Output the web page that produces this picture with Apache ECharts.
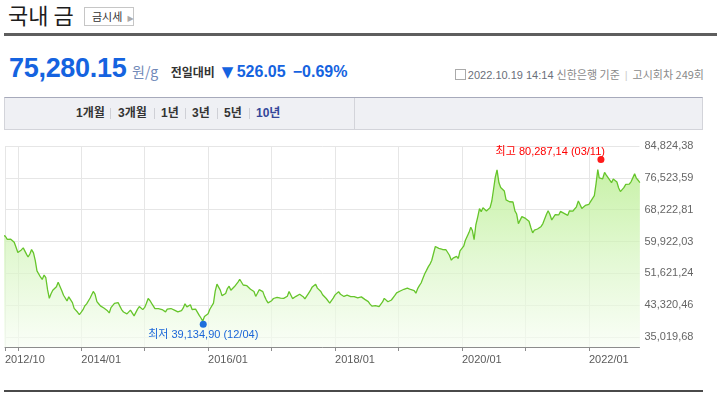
<!DOCTYPE html>
<html><head><meta charset="utf-8">
<script src="https://cdn.jsdelivr.net/npm/echarts@6/dist/echarts.min.js"></script>
<style>
html,body{margin:0;padding:0;width:717px;height:394px;overflow:hidden;background:#fff;font-family:"Liberation Sans","Noto Sans CJK KR",sans-serif;}
.abs{position:absolute;white-space:nowrap;}
#chart{position:absolute;left:0;top:0;width:717px;height:394px;}
.ib{display:inline-block;}
.tab{position:absolute;top:105px;font-size:12px;font-weight:bold;color:#333;line-height:16px;font-family:"Liberation Sans","Noto Sans CJK KR",sans-serif;}
.sep{position:absolute;top:108px;width:1px;height:11px;background:#cfd0d6;}
</style></head><body>
<div class="abs" style="left:8px;top:2px;font-size:22px;line-height:24px;color:#1d1d1d;font-family:'Noto Sans CJK KR',sans-serif;">국내 금</div>
<div class="abs" style="left:84px;top:7px;width:48px;height:17px;border:1px solid #c6c6c6;font-size:11px;line-height:17px;color:#333;font-family:'Noto Sans CJK KR',sans-serif;"><span style="margin-left:7px">금시세</span><span style="margin-left:5px;color:#aaa;font-size:8px;font-family:'DejaVu Sans'">▶</span></div>
<div class="abs" style="left:4px;top:33px;width:713px;height:3px;background:#5e5e5e;"></div>

<div class="abs" style="left:9px;top:52px;line-height:32px;">
<span class="ib" style="width:123px;font-size:27px;font-weight:bold;color:#1563e0;letter-spacing:-0.3px;">75,280.15</span><span class="ib" style="width:38.7px;font-size:14px;color:#7189b8;font-family:'Noto Sans CJK KR',sans-serif;">원/g</span><span class="ib" style="width:51px;font-size:12px;font-weight:bold;color:#333;font-family:'Noto Sans CJK KR',sans-serif;">전일대비</span><span class="ib" style="width:15px;font-size:15px;color:#1563e0;font-family:'DejaVu Sans';">▼</span><span class="ib" style="width:56px;font-size:16px;font-weight:bold;color:#1563e0;">526.05</span><span class="ib" style="font-size:16px;font-weight:bold;color:#1563e0;">−0.69%</span>
</div>

<div class="abs" style="right:13px;top:67px;font-size:11px;line-height:14px;color:#8a8a8a;">
<span class="ib" style="width:9px;height:9px;border:1px solid #aaa;vertical-align:-1px;margin-right:2px;"></span><span style="color:#6a6f7a;">2022.10.19 14:14</span> <span style="font-family:'Noto Sans CJK KR',sans-serif;">신한은행 기준</span><span style="color:#cccccc;margin:0 5px;">|</span><span style="font-family:'Noto Sans CJK KR',sans-serif;">고시회차 249회</span>
</div>

<div class="abs" style="left:4px;top:97px;width:697px;height:31px;background:#eff0f4;border-top:1px solid #a7aabb;border-bottom:1px solid #d3d4da;border-left:1px solid #d3d4da;border-right:1px solid #d3d4da;"></div>
<div class="abs" style="left:354px;top:98px;width:1px;height:31px;background:#d3d4da;"></div>
<div class="tab" style="left:76px;">1개월</div>
<div class="sep" style="left:110px;"></div>
<div class="tab" style="left:118px;">3개월</div>
<div class="sep" style="left:154px;"></div>
<div class="tab" style="left:161px;">1년</div>
<div class="sep" style="left:185px;"></div>
<div class="tab" style="left:192px;">3년</div>
<div class="sep" style="left:217px;"></div>
<div class="tab" style="left:224px;">5년</div>
<div class="sep" style="left:249px;"></div>
<div class="tab" style="left:256px;color:#34479a;">10년</div>

<div class="abs" style="left:4px;top:390px;width:699px;height:2px;background:#4a4a4a;"></div>

<div id="chart"></div>
<script>
// ---- data ----
const months = [
 '2012-10','2012-11','2012-12',
 '2013-01','2013-02','2013-03','2013-04','2013-05','2013-06','2013-07','2013-08','2013-09','2013-10','2013-11','2013-12',
 '2014-01','2014-02','2014-03','2014-04','2014-05','2014-06','2014-07','2014-08','2014-09','2014-10','2014-11','2014-12',
 '2015-01','2015-02','2015-03','2015-04','2015-05','2015-06','2015-07','2015-08','2015-09','2015-10','2015-11','2015-12',
 '2016-01','2016-02','2016-03','2016-04','2016-05','2016-06','2016-07','2016-08','2016-09','2016-10','2016-11','2016-12',
 '2017-01','2017-02','2017-03','2017-04','2017-05','2017-06','2017-07','2017-08','2017-09','2017-10','2017-11','2017-12',
 '2018-01','2018-02','2018-03','2018-04','2018-05','2018-06','2018-07','2018-08','2018-09','2018-10','2018-11','2018-12',
 '2019-01','2019-02','2019-03','2019-04','2019-05','2019-06','2019-07','2019-08','2019-09','2019-10','2019-11','2019-12',
 '2020-01','2020-02','2020-03','2020-04','2020-05','2020-06','2020-07','2020-08','2020-09','2020-10','2020-11','2020-12',
 '2021-01','2021-02','2021-03','2021-04','2021-05','2021-06','2021-07','2021-08','2021-09','2021-10','2021-11','2021-12',
 '2022-01','2022-02','2022-03','2022-04','2022-05','2022-06','2022-07','2022-08','2022-09','2022-10'
];
const monthDays = ['01','11','21'];
// 원/g, three readings per month (1st, 11th, 21st)
const prices = [
 // 2012 Oct-Dec
 61600,61600,61300, 60490,60640,60510, 60390,59720,58500,
 // 2013
 57060,57020,57730, 58260,58320,56510, 55870,56660,57810, 56940,55000,52250,
 51850,50670,50020, 51170,50480,47360, 45120,46280,47200, 46740,48140,49300,
 49600,47100,45900, 45650,44420,45500, 45320,44000,42480, 42010,41470,40850,
 // 2014
 41490,42130,43120, 43650,44090,45200, 45700,46900,46180, 44230,43690,43140,
 42780,42570,42800, 41840,41300,42680, 43090,43780,43430, 44010,43080,42180,
 41540,41030,41040, 41460,42030,41840, 40540,40810,42300, 42950,42690,42160,
 // 2015
 42740,43830,45060, 44480,43740,43020, 42420,42190,42430, 42420,42180,41690,
 41570,42280,42600, 42450,42480,42040, 42170,41580,41440, 41910,42600,43670,
 42890,43330,43440, 42190,42510,42280, 41460,40650,39980, 39150,40370,40280,
 // 2016
 41110,42260,42600, 43870,46980,48820, 49160,47250,45820, 45720,46370,47650,
 48280,47210,46930, 48170,48760,49350, 50080,50400,48580, 48620,48400,48140,
 47490,47900,46900, 45610,46440,47360, 47290,46850,45610, 44660,43920,43450,
 // 2017
 44490,45060,44940, 45380,45330,45180, 45070,45100,45160, 45660,46910,46690,
 45040,45080,45630, 45950,46170,45900, 45540,44940,45000, 46380,47100,47970,
 48120,48800,47770, 47360,46890,46040, 45700,45060,44590, 43850,44220,45160,
 // 2018
 46010,46480,46820, 46170,45880,45600, 45410,45960,45490, 45570,45940,45560,
 45120,45230,44810, 45490,45230,44840, 44860,44250,43600, 43060,42910,43180,
 42940,42970,42500, 44160,45100,44720, 44210,44200,44670, 45160,45860,46510,
 // 2019
 46520,47010,47440, 47470,47640,47790, 47810,47410,47390, 47130,46440,47620,
 48400,49100,50280, 51510,52400,53310, 54030,54970,56730, 58610,59000,58150,
 57760,57840,57760, 57770,57050,56340, 55060,55590,55610, 56060,55500,57500,
 // 2020
 58140,58700,60240, 59810,62310,63630, 62810,60400,64230, 66360,68490,67700,
 68710,68580,67900, 67600,68760,70480, 73550,76700,78610, 75220,73990,74290,
 73090,70790,70630, 70290,69970,70220, 67900,67080,64580, 64900,66410,66090,
 // 2021
 65940,65790,65190, 63510,62170,62880, 63030,63180,63240, 63850,64590,64800,
 66960,67930,67030, 65550,65820,66910, 67330,66850,67760, 67430,67260,67340,
 66740,67920,67740, 67870,68170,68970, 70510,70290,68560, 68740,69320,69830,
 // 2022 Jan-Oct
 69630,70370,70210, 71870,75000,78700, 76500,76700,76280, 77920,77250,76590,
 76210,75270,76220, 76740,75450,73860, 72940,73180,73970, 74820,75170,74860,
 75540,75870,77560, 76430,75900,75280
];
const xStart = '2012-10-19';
const xEnd = '2022-10-19';
const yearTicks = ['2012-10-19','2013-01-01','2014-01-01','2015-01-01','2016-01-01','2017-01-01','2018-01-01','2019-01-01','2020-01-01','2021-01-01','2022-01-01'];
const xLabels = ['2012-10-19','2014-01-01','2016-01-01','2018-01-01','2020-01-01','2022-01-01'];
const yTicks = [35019.68, 43320.46, 51621.24, 59922.03, 68222.81, 76523.59, 84824.38];
const yMin = 32416;
const high = { name: '최고', date: '2022-03-11', value: 80287.14 };
const low = { name: '최저', date: '2015-12-04', value: 39134.90 };

// ---- build ----
const pd = echarts.number.parseDate;
const ts = s => pd(s).getTime();
const lineData = [];
months.forEach((m, i) => {
  monthDays.forEach((d, j) => {
    lineData.push([ts(m + '-' + d), prices[i * 3 + j]]);
  });
});
function fmt(v) {
  const s = v.toFixed(2).split('.');
  return s[0].replace(/\B(?=(\d{3})+(?!\d))/g, ',') + ',' + s[1];
}
function mmdd(ds) { const p = ds.split('-'); return p[1] + '/' + p[2]; }
const fontFam = '"Liberation Sans","Noto Sans CJK KR",sans-serif';

const chart = echarts.init(document.getElementById('chart'), null, { renderer: 'canvas' });
chart.setOption({
  animation: false,
  backgroundColor: 'transparent',
  grid: { left: 5, right: 77.5, top: 146, bottom: 47, outerBoundsMode: 'none' },
  xAxis: {
    type: 'value',
    min: ts(xStart),
    max: ts(xEnd),
    axisLine: { show: true, lineStyle: { color: '#8c8c8c', width: 1 } },
    axisTick: { show: true, length: 4, lineStyle: { color: '#8c8c8c' },
      customValues: yearTicks.map(ts) },
    axisLabel: {
      customValues: xLabels.map(ts),
      align: 'left', margin: 7, color: '#5a5a5a', fontSize: 11, fontFamily: fontFam,
      formatter: function (v) { const d = new Date(v); return d.getFullYear() + '/' + String(d.getMonth() + 1).padStart(2, '0'); }
    },
    splitLine: { show: true, lineStyle: { color: '#e6e6e6', width: 1 } }
  },
  yAxis: {
    type: 'value', position: 'right',
    min: yMin, max: yTicks[yTicks.length - 1],
    axisLine: { show: false },
    axisTick: { show: false, customValues: yTicks },
    axisLabel: { customValues: yTicks, margin: 5, color: '#666', fontSize: 11, fontFamily: fontFam,
      formatter: function (v) { return fmt(v); } },
    splitLine: { show: true, lineStyle: { color: '#e6e6e6', width: 1 } }
  },
  series: [
    {
      type: 'line', data: lineData, showSymbol: false, symbol: 'none', silent: true, z: 2,
      lineStyle: { color: '#66c52b', width: 1.3 },
      areaStyle: { origin: 'start', color: new echarts.graphic.LinearGradient(0, 0, 0, 1, [
        { offset: 0, color: '#b0eb82' }, { offset: 0.5, color: '#d6f5c0' }, { offset: 1, color: '#f7fdf3' }]) }
    },
    {
      type: 'scatter', data: [[ts(high.date), high.value]], symbolSize: 7, symbolOffset: [0, -4], silent: true, z: 10,
      itemStyle: { color: '#ff1a1a', opacity: 1 },
      label: { show: true, position: 'inside', align: 'right', verticalAlign: 'middle', offset: [4, -7],
        color: '#f00', fontSize: 11, fontFamily: fontFam,
        formatter: high.name + ' ' + fmt(high.value) + ' (' + mmdd(high.date) + ')' }
    },
    {
      type: 'scatter', data: [[ts(low.date), low.value]], symbolSize: 7, symbolOffset: [0, 3], silent: true, z: 10,
      itemStyle: { color: '#1e6fdc', opacity: 1 },
      label: { show: true, position: 'inside', align: 'center', verticalAlign: 'middle', offset: [0, 11],
        color: '#1a66d8', fontSize: 11, fontFamily: fontFam,
        formatter: low.name + ' ' + fmt(low.value) + ' (' + mmdd(low.date) + ')' }
    }
  ]
});
</script>
</body></html>
